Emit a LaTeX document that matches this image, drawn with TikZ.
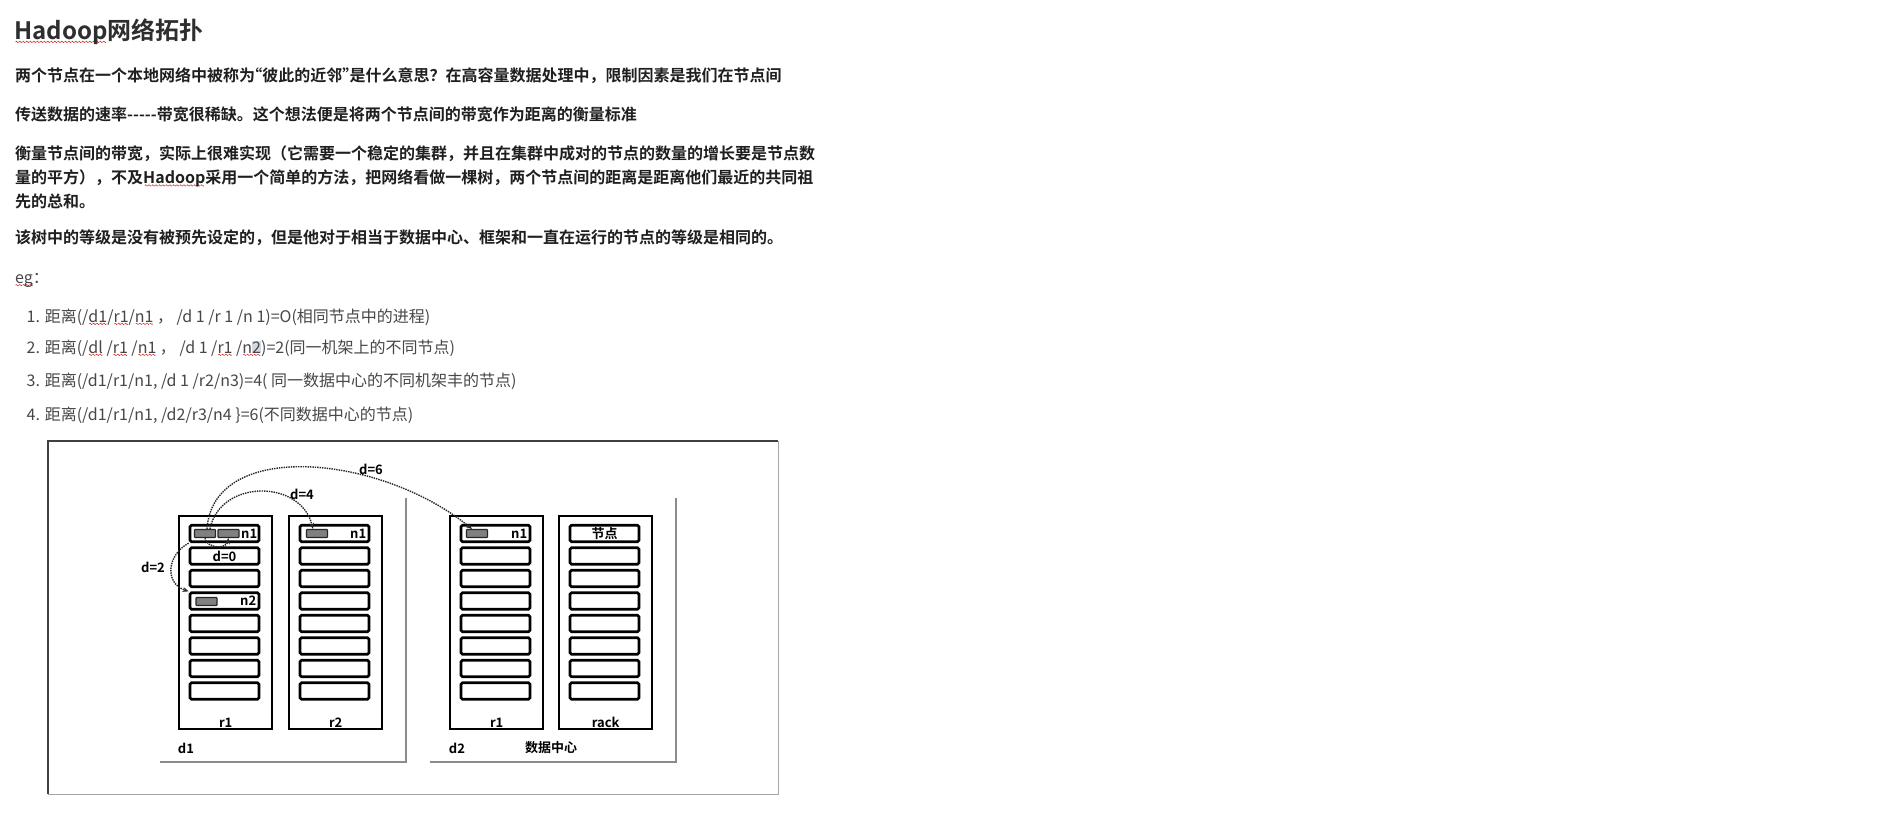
\documentclass[tikz,border=0pt]{standalone}
\usepackage{fontspec}
\setmainfont{Noto Sans CJK SC}[BoldFont={Noto Sans CJK SC Bold}]
\usepackage[HTML]{xcolor}
\usepackage{tikz}
\usetikzlibrary{positioning, arrows, arrows.meta}
\usetikzlibrary{calc}
\definecolor{titlec}{HTML}{2E2E2E}
\definecolor{parac}{HTML}{1F1F1F}
\definecolor{itemc}{HTML}{474747}
\definecolor{hlgray}{HTML}{D3DAE2}
\definecolor{spellred}{HTML}{D02020}
\newsavebox\wavebox
\newsavebox\spellbox
\newcommand\spell[1]{\sbox\spellbox{#1}\rlap{\lower2.8pt\hbox to\wd\spellbox{\cleaders\copy\wavebox\hfil}}\usebox\spellbox}
\newcommand\hlbox[1]{{\setlength\fboxsep{0pt}\colorbox{hlgray}{#1}}}
\newcommand\openq{\kern-0.55em“}
\newcommand\closeq{”\kern-0.55em}

\begin{document}
\sbox\wavebox{\begin{pgfpicture}
\pgfsetlinewidth{0.5pt}\pgfsetstrokecolor{spellred}
\pgfpathmoveto{\pgfpointorigin}
\pgfpathsine{\pgfpoint{0.75pt}{0.7pt}}
\pgfpathcosine{\pgfpoint{0.75pt}{-0.7pt}}
\pgfpathsine{\pgfpoint{0.75pt}{-0.7pt}}
\pgfpathcosine{\pgfpoint{0.75pt}{0.7pt}}
\pgfusepath{stroke}
\end{pgfpicture}}%
\begin{tikzpicture}[x=1pt,y=-1pt,
txt/.style={anchor=base west,inner sep=0pt,font=\bfseries\fontsize{16}{20}\selectfont,text=parac},
item/.style={anchor=base west,inner sep=0pt,font=\fontsize{16}{19}\selectfont,text=itemc},
rack/.style={draw,line width=2.4pt,minimum width=93pt,minimum height=213pt,inner sep=0pt},
slot/.style={draw,line width=2.8pt,rounded corners=1.5pt,minimum width=69pt,minimum height=16.5pt,inner sep=0pt},
disk/.style={draw=black!85,fill=black!50,line width=1.1pt,rounded corners=0.6pt,minimum width=21pt,minimum height=8pt,inner sep=0pt},
lbl/.style={font=\bfseries\fontsize{13}{15}\selectfont,inner sep=0pt},
hop/.style={densely dotted,line width=1.4pt,black!85,-{Stealth[length=6pt,width=5pt]}},
wall/.style={draw=black!45,line width=1.8pt}]
\fill[white] (0,0) rectangle (1880,824);
\useasboundingbox (0,0) rectangle (1880,824);

% text above the figure
\node[anchor=base west,inner sep=0pt,font=\bfseries\fontsize{24}{28}\selectfont,text=titlec] (title) at (14,40) {\spell{Hadoop}网络拓扑};
\node[txt] (p1) at (15,81.6) {两个节点在一个本地网络中被称为\openq 彼此的近邻\closeq 是什么意思？在高容量数据处理中，限制因素是我们在节点间};
\node[txt] (p2) at (15,120.6) {传送数据的速率-{}-{}-{}-{}-带宽很稀缺。这个想法便是将两个节点间的带宽作为距离的衡量标准};
\node[txt] (p3a) at (15,159.1) {衡量节点间的带宽，实际上很难实现（它需要一个稳定的集群，并且在集群中成对的节点的数量的增长要是节点数};
\node[txt] (p3b) at (15,183.6) {量的平方），不及\spell{Hadoop}采用一个简单的方法，把网络看做一棵树，两个节点间的距离是距离他们最近的共同祖};
\node[txt] (p3c) at (15,207.6) {先的总和。};
\node[txt] (p4) at (15,243.6) {该树中的等级是没有被预先设定的，但是他对于相当于数据中心、框架和一直在运行的节点的等级是相同的。};
\node[item] (eg) at (15,283.3) {\spell{eg}：};
\node[item] (l1) at (26.5,322) {1. 距离(/\spell{d1}/\spell{r1}/\spell{n1} ， /d 1 /r 1 /n 1)=O(相同节点中的进程)};
\node[item] (l2) at (26.5,353) {2. 距离(/\spell{dl} /\spell{r1} /\spell{n1} ， /d 1 /\spell{r1} /\spell{n\hlbox{2}})=2(同一机架上的不同节点)};
\node[item] (l3) at (26.5,386.5) {3. 距离(/d1/r1/n1, /d 1 /r2/n3)=4( 同一数据中心的不同机架丰的节点)};
\node[item] (l4) at (26.5,420.5) {4. 距离(/d1/r1/n1, /d2/r3/n4 \}=6(不同数据中心的节点)};

% figure frame and data centre walls
\draw[black!35,line width=1pt] (48,441) rectangle (778,794);
\draw[black!75,line width=1.4pt] (48,794) -- (48,441) -- (778,441);
\draw[wall] (406,498) -- (406,762) -- (160,762);
\draw[wall] (676,498) -- (676,762) -- (430,762);

% racks with eight slots each
\foreach \r/\x in {A/178,B/288,C/449,D/558}{
  \node[rack,anchor=north west] (rack\r) at (\x,515) {};
  \foreach \i in {1,...,8}
    \node[slot] (\r\i) at ({\x+46.5},{533.5+(\i-1)*22.5}) {};
}
\node[lbl,above=3pt of rackA.south] (lr1) {r1};
\node[lbl,above=3pt of rackB.south] (lr2) {r2};
\node[lbl,above=3pt of rackC.south] (lr3) {r1};
\node[lbl,above=3pt of rackD.south] (lrack) {rack};
\node[lbl] (ld1) at (186,748) {d1};
\node[lbl] (ld2) at (457,748) {d2};
\node[lbl] (ldc) at (551,748) {数据中心};

% nodes in the slots
\node[disk] (a1) at (205,533.5) {};
\node[disk] (a2) at (228.5,533.5) {};
\node[disk] (a4) at (206.5,601.5) {};
\node[disk] (b1) at (317,533.5) {};
\node[disk] (c1) at (477,533.5) {};
\node[lbl,anchor=east] (nA1) at ($(A1.east)+(-3,0)$) {n1};
\node[lbl,anchor=east] (nA4) at ($(A4.east)+(-4,0)$) {n2};
\node[lbl,anchor=east] (nB1) at ($(B1.east)+(-4,0)$) {n1};
\node[lbl,anchor=east] (nC1) at ($(C1.east)+(-4,0)$) {n1};
\node[lbl] (nD1) at (D1) {节点};

% distances
\draw[hop] (a1.south) .. controls +(2,11) and +(-2,11) .. (a2.south);
\node[lbl] (d0) at (A2) {d=0};
\draw[hop] (A1.south west) .. controls +(-22,12) and +(-24,-8) .. (A4.north west);
\node[lbl] (dd2) at (153,567) {d=2};
\draw[hop] ([xshift=5pt]a1.north) .. controls +(10,-50) and +(-12,-50) .. ([xshift=-4pt]b1.north);
\node[lbl] (dd4) at (302,494) {d=4};
\draw[hop] ([xshift=2pt]a1.north) .. controls +(6,-90) and +(-92,-75) .. ([xshift=-5pt]c1.north);
\node[lbl] (dd6) at (371,469) {d=6};
\end{tikzpicture}
\end{document}
